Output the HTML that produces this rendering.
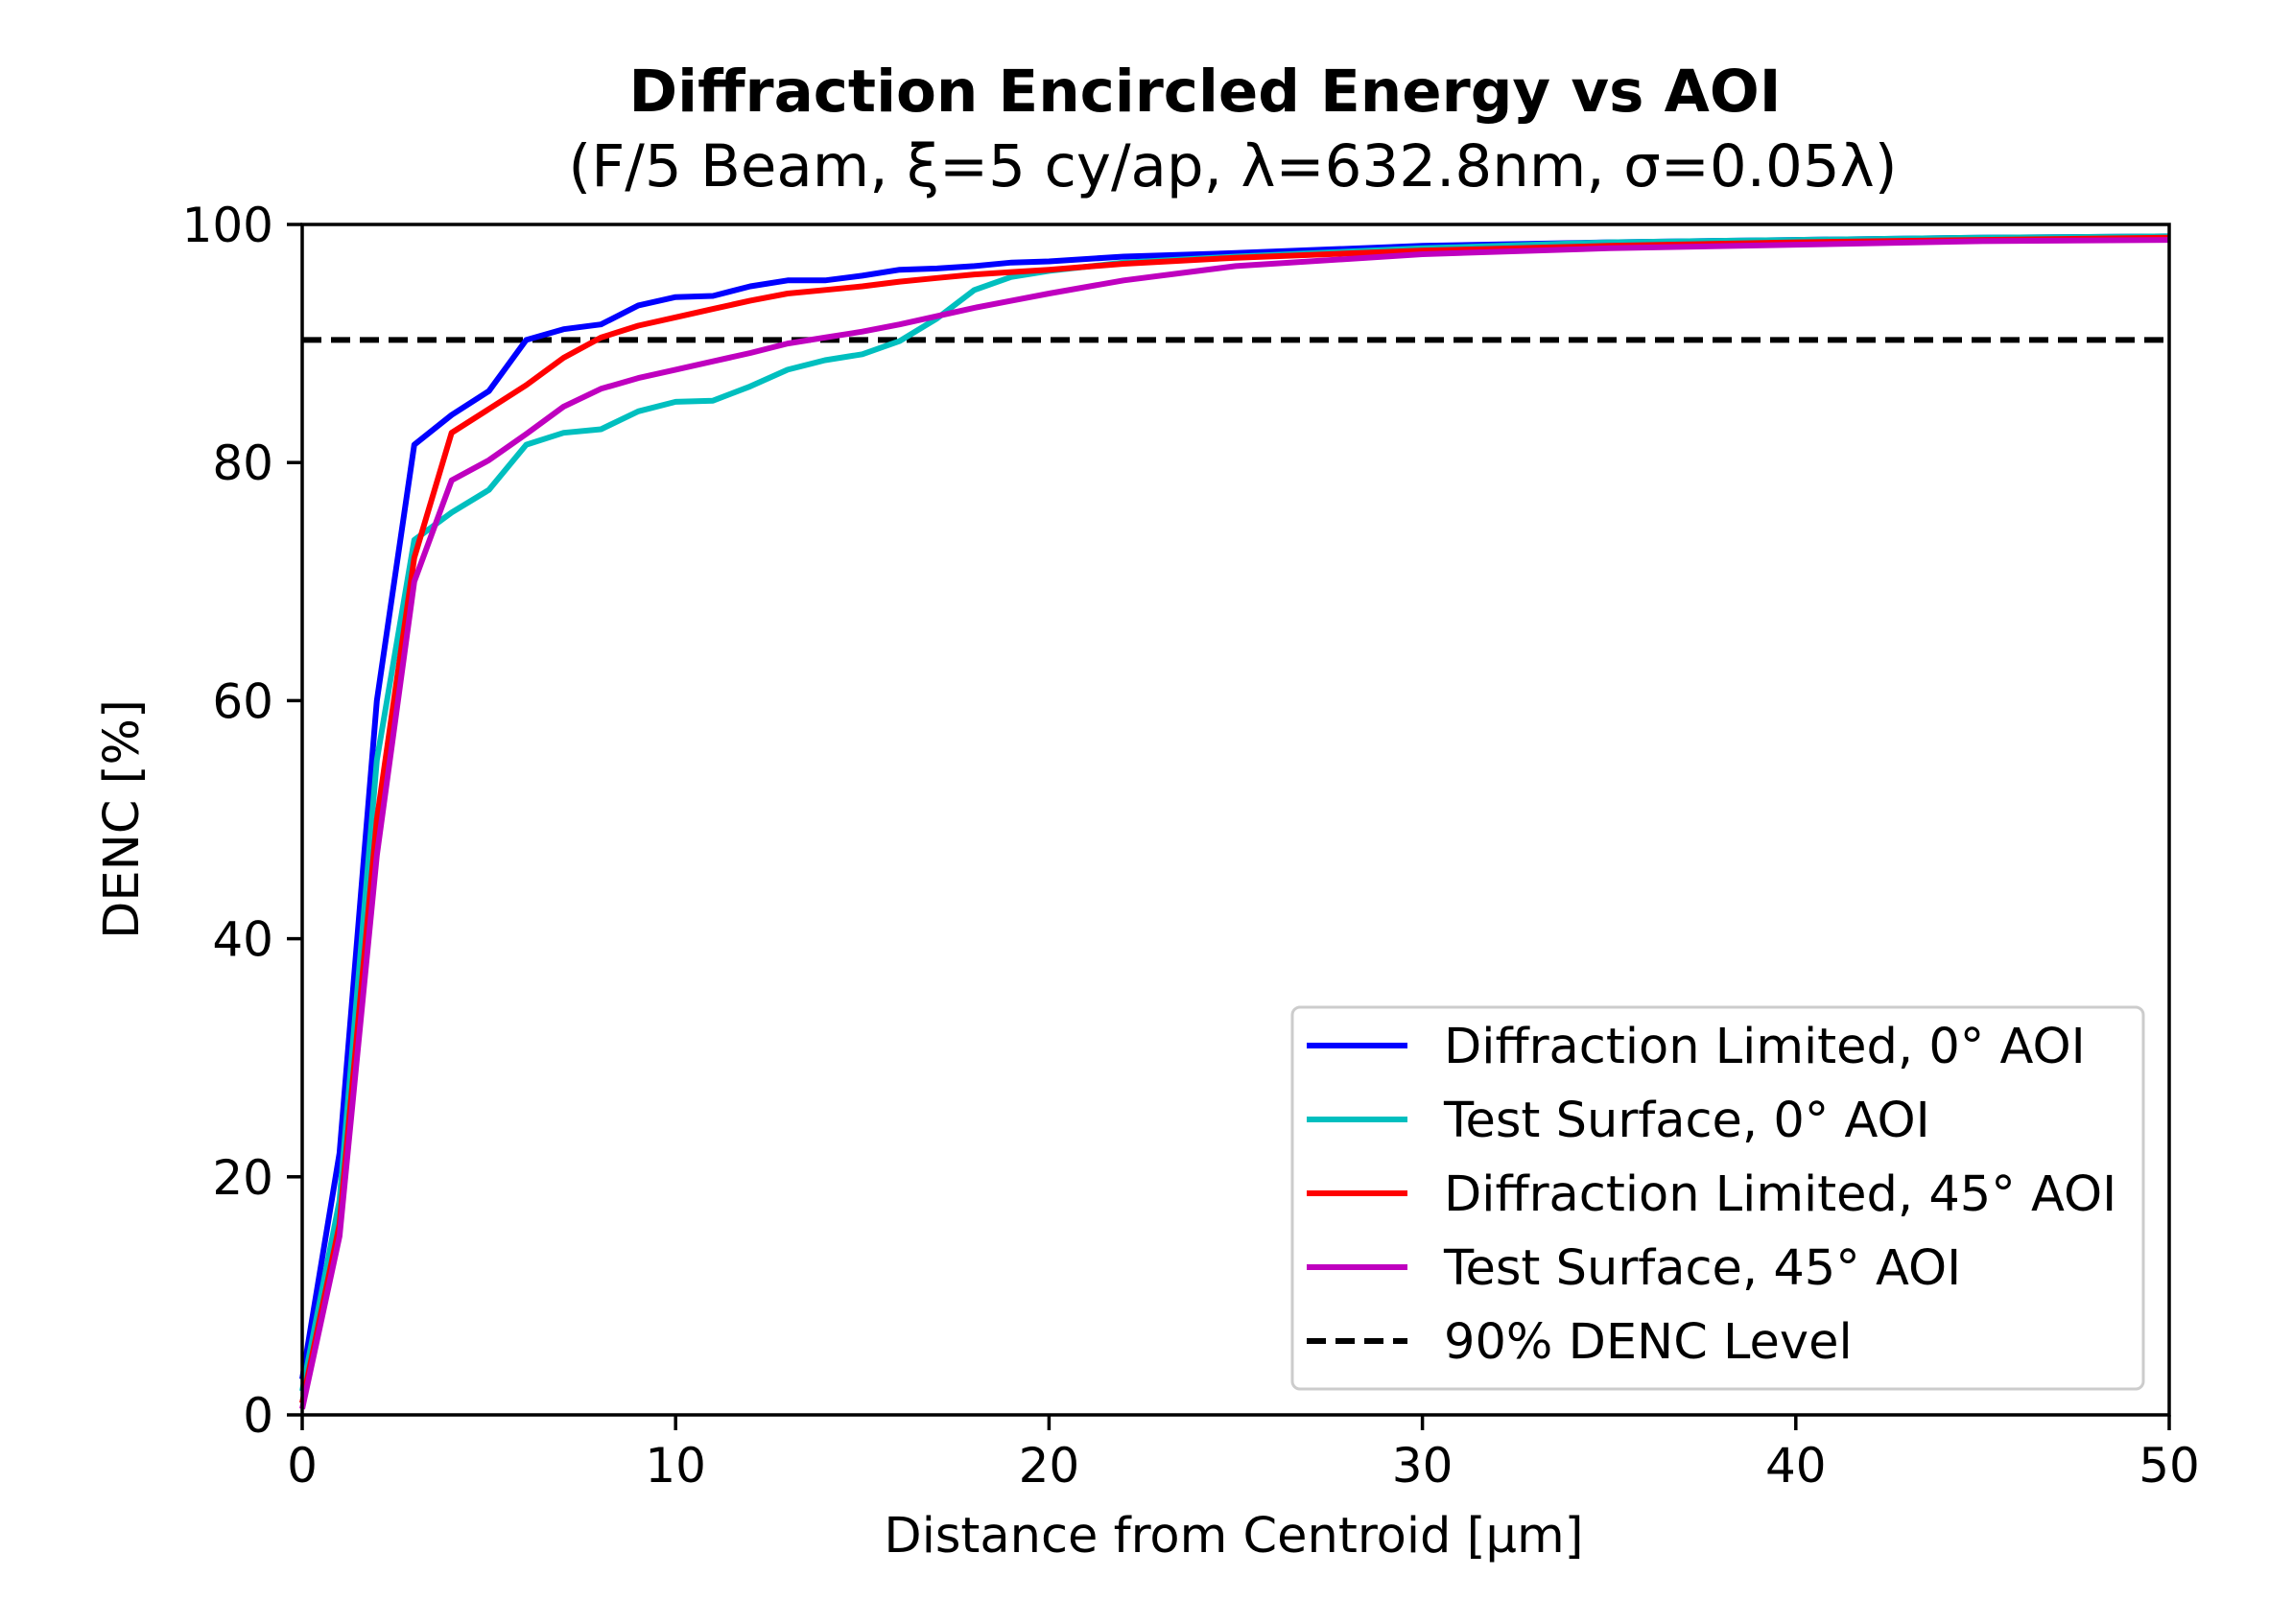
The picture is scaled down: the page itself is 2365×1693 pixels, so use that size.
<!DOCTYPE html>
<html><head><meta charset="utf-8"><style>
html,body{margin:0;padding:0;background:#fff;}
svg{display:block;font-family:"DejaVu Sans","Liberation Sans",sans-serif;}
</style></head><body>
<svg id="chart" width="2365" height="1693" viewBox="0 0 2365 1693" xmlns="http://www.w3.org/2000/svg">
<rect width="2365" height="1693" fill="#fff"/>
<text x="1256" y="116" text-anchor="middle" font-size="61" font-weight="bold" fill="#000">Diffraction Encircled Energy vs AOI</text>
<text x="1285" y="194" text-anchor="middle" font-size="61" fill="#000">(F/5 Beam, ξ=5 cy/ap, λ=632.8nm, σ=0.05λ)</text>
<g id="ticks"></g>
<g id="series"></g>
<rect x="315" y="234" width="1946" height="1241" fill="none" stroke="#000" stroke-width="3.5"/>
<text x="1286" y="1618" text-anchor="middle" font-size="51" fill="#000">Distance from Centroid [µm]</text>
<text transform="translate(144,854) rotate(-90)" text-anchor="middle" font-size="51" fill="#000">DENC [%]</text>
<g>
<rect x="1347" y="1050" width="887" height="398" rx="8" fill="#fff" fill-opacity="0.9" stroke="#ccc" stroke-width="3"/>
<g id="legend-items"></g>
</g>
</svg>
<script>
const xs = [0,1,2,3,4,5,6,7,8,9,10,11,12,13,14,15,16,17,18,19,20,22,25,30,35,40,45,50];
const blueVals = [3,22,60,81.5,84,86,90.3,91.2,91.6,93.2,93.9,94,94.8,95.3,95.3,95.7,96.2,96.3,96.5,96.8,96.9,97.3,97.6,98.2,98.5,98.7,98.9,99];
const cyanVals = [2,18,55,73.5,75.8,77.7,81.5,82.5,82.8,84.3,85.1,85.2,86.4,87.8,88.6,89.1,90.2,92.1,94.5,95.6,96.1,96.8,97.3,98,98.5,98.7,98.9,99];
const redVals = [1,16,50,72,82.5,84.5,86.5,88.8,90.5,91.5,92.2,92.9,93.6,94.2,94.5,94.8,95.2,95.5,95.8,96,96.2,96.7,97.2,97.8,98.2,98.5,98.7,98.9];
const magentaVals = [0.5,15,47,70,78.5,80.2,82.4,84.7,86.2,87.1,87.8,88.5,89.2,90,90.5,91,91.6,92.3,93,93.6,94.2,95.3,96.5,97.5,98,98.3,98.6,98.7];
const thresholdLevel = [90.3];
const xTicks = [0,10,20,30,40,50];
const yTicks = [0,20,40,60,80,100];
const seriesNames = ["Diffraction Limited, 0° AOI","Test Surface, 0° AOI","Diffraction Limited, 45° AOI","Test Surface, 45° AOI","90% DENC Level"];

const NS="http://www.w3.org/2000/svg";
const L=315,R=2261,T=234,B=1475;
const sx=v=>L+(v-0)/(50-0)*(R-L);
const sy=v=>B-(v-0)/(100-0)*(B-T);
function mk(tag,attrs,parent){const e=document.createElementNS(NS,tag);for(const k in attrs)e.setAttribute(k,attrs[k]);parent.appendChild(e);return e;}
const tg=document.getElementById('ticks');
xTicks.forEach(t=>{
  const l=mk('line',{x1:sx(t),x2:sx(t),y1:B,y2:B+16,stroke:'#000','stroke-width':3.5},tg);
  
  
  const tx=mk('text',{x:sx(t),y:B+70,'text-anchor':'middle','font-size':50,fill:'#000'},tg);
  tx.textContent=t;
  
  
});
yTicks.forEach(t=>{
  const l=mk('line',{x1:L-16,x2:L,y1:sy(t),y2:sy(t),stroke:'#000','stroke-width':3.5},tg);
  
  
  const tx=mk('text',{x:L-30,y:sy(t)+18,'text-anchor':'end','font-size':50,fill:'#000'},tg);
  tx.textContent=t;
  
  
});
const sg=document.getElementById('series');
const hl=mk('line',{x1:L,x2:R,y1:sy(thresholdLevel[0]),y2:sy(thresholdLevel[0]),stroke:'#000','stroke-width':6,'stroke-dasharray':'20,10'},sg);


const defs=[[blueVals,'#0000ff','series-diffraction-0aoi'],[cyanVals,'#00bfbf','series-test-0aoi'],[redVals,'#ff0000','series-diffraction-45aoi'],[magentaVals,'#bf00bf','series-test-45aoi']];
defs.forEach(([vals,col,name])=>{
  const d=vals.map((v,i)=>(i?'L':'M')+sx(xs[i]).toFixed(1)+','+sy(v).toFixed(1)).join(' ');
  const p=mk('path',{d:d,fill:'none',stroke:col,'stroke-width':6,'stroke-linejoin':'round'},sg);
  
  
});
const lg=document.getElementById('legend-items');
const lcols=['#0000ff','#00bfbf','#ff0000','#bf00bf','#000'];
seriesNames.forEach((n,i)=>{
  const y=1090+i*77;
  const ln=mk('line',{x1:1362,x2:1467,y1:y,y2:y,stroke:lcols[i],'stroke-width':6},lg);
  if(i===4)ln.setAttribute('stroke-dasharray','20,10');
  
  
  const tx=mk('text',{x:1505,y:y+18,'font-size':51,fill:'#000'},lg);
  tx.textContent=n;
  
  
});
</script>
</body></html>
